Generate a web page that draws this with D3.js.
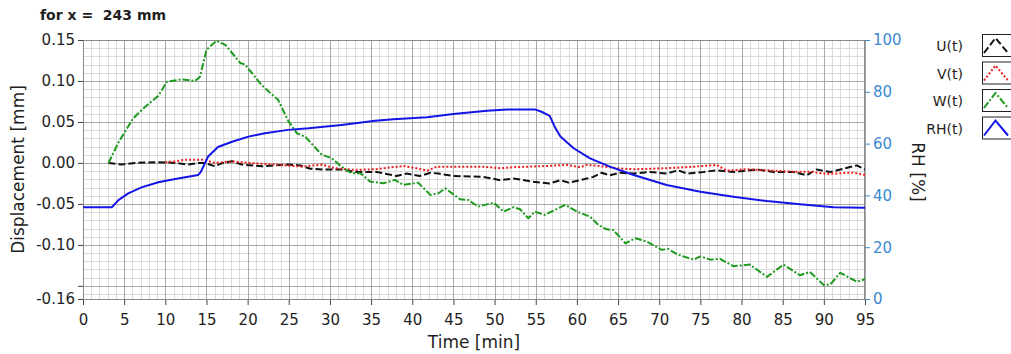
<!DOCTYPE html>
<html><head><meta charset="utf-8">
<script src="https://cdn.jsdelivr.net/npm/d3@7"></script>
<style>
html,body{margin:0;padding:0;background:#fff;}
svg{display:block;font-family:"DejaVu Sans",Verdana,sans-serif;}
</style></head>
<body>
<svg id="chart" width="1011" height="354"></svg>
<script>
// ---- data (time [min], value) ----
const uSeries = [[3.1,0.000],[4.7,-0.002],[6.3,0.000],[9.1,0.001],[11.2,0.000],[12.8,-0.002],[14.0,0.000],[14.8,0.000],[16.0,-0.004],[17.0,0.000],[18.1,0.002],[19.3,-0.002],[21.7,-0.004],[24.9,-0.002],[26.4,-0.003],[27.6,-0.007],[29.2,-0.008],[31.4,-0.008],[33.0,-0.011],[35.7,-0.011],[38.1,-0.016],[39.3,-0.013],[40.9,-0.016],[42.2,-0.012],[43.2,-0.013],[45.0,-0.016],[48.6,-0.017],[50.7,-0.021],[52.3,-0.019],[54.7,-0.023],[56.7,-0.025],[58.0,-0.021],[59.0,-0.024],[60.4,-0.021],[62.0,-0.017],[63.0,-0.012],[64.0,-0.015],[65.2,-0.012],[66.9,-0.013],[68.9,-0.011],[70.9,-0.013],[72.3,-0.009],[73.4,-0.013],[75.4,-0.011],[77.0,-0.009],[79.0,-0.011],[81.9,-0.008],[83.9,-0.011],[86.3,-0.011],[87.9,-0.015],[89.1,-0.008],[90.8,-0.011],[92.0,-0.008],[94.0,-0.003],[95.0,-0.008]];
const vSeries = [[10.0,0.001],[11.2,0.002],[12.4,0.004],[14.6,0.004],[16.0,0.000],[18.1,0.002],[20.1,0.000],[23.3,-0.002],[26.6,-0.0045],[29.0,-0.002],[30.6,-0.0065],[33.0,-0.0085],[35.5,-0.0077],[36.5,-0.0065],[38.9,-0.0037],[40.5,-0.0065],[41.8,-0.0094],[43.0,-0.0045],[44.6,-0.0045],[48.6,-0.0045],[50.7,-0.0065],[52.3,-0.0052],[56.3,-0.0037],[58.8,-0.0024],[60.4,-0.0052],[61.2,-0.0024],[62.8,-0.0037],[64.8,-0.0065],[66.9,-0.0077],[70.9,-0.0065],[74.2,-0.0045],[77.0,-0.0024],[78.2,-0.0094],[80.6,-0.0077],[83.9,-0.0094],[86.3,-0.0106],[88.3,-0.0106],[90.4,-0.0134],[92.0,-0.0126],[93.6,-0.0118],[95.0,-0.0146]];
const wSeries = [[3.1,0.000],[4.3,0.025],[6.1,0.0545],[7.5,0.068],[9.15,0.082],[10.2,0.099],[12.0,0.102],[13.6,0.100],[14.2,0.105],[15.0,0.138],[16.2,0.149],[17.3,0.144],[19.1,0.122],[19.7,0.120],[21.7,0.095],[23.7,0.077],[24.9,0.052],[26.0,0.036],[27.0,0.032],[29.0,0.010],[30.2,0.006],[31.4,-0.0045],[32.6,-0.0126],[33.7,-0.0126],[34.9,-0.0228],[36.5,-0.0248],[37.9,-0.0207],[38.9,-0.0268],[40.7,-0.024],[42.2,-0.039],[43.2,-0.037],[44.0,-0.031],[45.8,-0.0443],[46.8,-0.0451],[48.0,-0.0533],[49.9,-0.0484],[51.1,-0.0594],[52.3,-0.054],[53.1,-0.0565],[54.1,-0.0675],[54.9,-0.0594],[56.1,-0.0634],[56.9,-0.0594],[58.6,-0.0512],[60.0,-0.0594],[61.6,-0.0655],[62.6,-0.0756],[63.6,-0.081],[64.4,-0.0817],[65.9,-0.098],[67.1,-0.0918],[68.5,-0.096],[70.3,-0.106],[71.1,-0.105],[72.3,-0.112],[74.2,-0.118],[75.0,-0.114],[76.2,-0.118],[77.4,-0.117],[79.0,-0.126],[81.0,-0.124],[83.1,-0.139],[85.1,-0.124],[87.1,-0.137],[88.3,-0.133],[90.0,-0.149],[90.8,-0.148],[92.0,-0.134],[94.0,-0.145],[95.0,-0.142]];
const rhSeries = [[0,35.4],[3.5,35.4],[4.3,38.2],[5.5,40.8],[7.1,43.1],[9.15,45.1],[11.2,46.3],[14.0,47.9],[14.3,49.0],[15.2,55.0],[16.4,58.7],[18.1,60.7],[20.1,62.7],[22.1,64.0],[24.9,65.3],[27.4,65.9],[31.4,67.2],[35.5,68.8],[37.7,69.4],[41.8,70.2],[45.0,71.4],[49.1,72.7],[51.5,73.2],[54.9,73.2],[55.7,72.3],[56.7,70.7],[57.4,65.9],[58.0,62.7],[59.6,58.2],[61.6,54.3],[64.0,51.1],[66.9,47.9],[70.9,44.0],[75.0,41.4],[79.0,39.5],[83.1,37.8],[87.1,36.6],[91.2,35.4],[95.0,35.2]];

const legendNames = ["U(t)","V(t)","W(t)","RH(t)"];
const xTicks = d3.range(0,96,5);
const yLeftTicks = [0.15,0.10,0.05,0.00,-0.05,-0.10,-0.15,-0.166];
const yLeftLabels = ["0.15","0.10","0.05","0.00","-0.05","-0.10","","-0.16"];
const yRightTicks = [0,20,40,60,80,100];
const titleText = "for x =  243 mm";

// ---- layout ----
const L = 83, R = 865, T = 40, B = 299;
const x = d3.scaleLinear().domain([0,95]).range([L,R]);
const yL = d3.scaleLinear().domain([-0.166,0.15]).range([B,T]);
const yR = d3.scaleLinear().domain([0,100]).range([B,T]);

const svg = d3.select("#chart");
const textCol = "#1e1e1e";
const axisBlue = "#3a8ad0";

svg.append("text").attr("x",40).attr("y",20).attr("font-size",14).attr("font-weight","bold")
  .attr("fill",textCol).style("white-space","pre").text(titleText);

// plot bg
svg.append("rect").attr("x",L).attr("y",T).attr("width",R-L).attr("height",B-T).attr("fill","#fff");

const grid = svg.append("g");
// minor grid
d3.range(0,96,1).filter(d=>d%5!==0).forEach(d=>{
  grid.append("line").attr("x1",Math.round(x(d))+0.5).attr("x2",Math.round(x(d))+0.5).attr("y1",T).attr("y2",B)
    .attr("stroke","#dcdcdc").attr("stroke-width",1);
});
d3.range(-16,16,1).filter(d=>d%5!==0).forEach(d=>{
  const yy = Math.round(yL(d/100))+0.5;
  grid.append("line").attr("x1",L).attr("x2",R).attr("y1",yy).attr("y2",yy)
    .attr("stroke","#dcdcdc").attr("stroke-width",1);
});
// major grid
xTicks.forEach(d=>{
  grid.append("line").attr("x1",Math.round(x(d))+0.5).attr("x2",Math.round(x(d))+0.5).attr("y1",T).attr("y2",B)
    .attr("stroke","#a9a9a9").attr("stroke-width",1);
});
[-0.15,-0.10,-0.05,0,0.05,0.10].forEach(d=>{
  const yy = Math.round(yL(d))+0.5;
  grid.append("line").attr("x1",L).attr("x2",R).attr("y1",yy).attr("y2",yy)
    .attr("stroke","#a9a9a9").attr("stroke-width",1);
});
svg.append("rect").attr("x",L+0.5).attr("y",T+0.5).attr("width",R-L-1).attr("height",B-T)
  .attr("fill","none").attr("stroke","#8a8a8a").attr("stroke-width",1);

// axes
const xAxis = svg.append("g").attr("transform",`translate(0,${B+1})`)
  .call(d3.axisBottom(x).tickValues(xTicks).tickSize(5).tickPadding(9).tickFormat(d3.format("d")));
const yAxisL = svg.append("g").attr("transform",`translate(${L},0)`)
  .call(d3.axisLeft(yL).tickValues(yLeftTicks).tickSize(5).tickPadding(3)
    .tickFormat((d,i)=>yLeftLabels[i]));
const yAxisR = svg.append("g").attr("transform",`translate(${R},0)`)
  .call(d3.axisRight(yR).tickValues(yRightTicks).tickSize(5).tickPadding(3).tickFormat(d3.format("d")));
[xAxis,yAxisL,yAxisR].forEach(g=>{
  g.select(".domain").remove();
  g.selectAll("text").attr("font-size",15).attr("font-family","DejaVu Sans, sans-serif");
});
xAxis.selectAll("line").attr("stroke","#444");
xAxis.selectAll("text").attr("fill",textCol);
yAxisL.selectAll("line").attr("stroke","#444");
yAxisL.selectAll("text").attr("fill",textCol);
yAxisR.selectAll("line").attr("stroke",axisBlue);
yAxisR.selectAll("text").attr("fill",axisBlue);

// axis titles
svg.append("text").attr("x",(L+R)/2).attr("y",348).attr("text-anchor","middle")
  .attr("font-size",17).attr("fill",textCol).text("Time [min]");
svg.append("text").attr("transform",`translate(24,${(T+B)/2}) rotate(-90)`).attr("text-anchor","middle")
  .attr("font-size",17).attr("fill",textCol).text("Displacement [mm]");
svg.append("text").attr("transform",`translate(912,${172}) rotate(90)`).attr("text-anchor","middle")
  .attr("font-size",17).attr("fill",textCol).text("RH [%]");

// lines
const styles = [
  {data:uSeries, y:yL, color:"#111111", dash:"7,3", w:2},
  {data:vSeries, y:yL, color:"#ee1c1c", dash:"2,2", w:2},
  {data:wSeries, y:yL, color:"#1e9a1e", dash:"7,2,2,2", w:2},
  {data:rhSeries, y:yR, color:"#1414e6", dash:null, w:2}
];
const clip = svg.append("clipPath").attr("id","pc").append("rect")
  .attr("x",L).attr("y",T).attr("width",R-L).attr("height",B-T);
const lg = svg.append("g").attr("clip-path","url(#pc)");
styles.forEach(s=>{
  const line = d3.line().x(d=>x(d[0])).y(d=>s.y(d[1]));
  lg.append("path").attr("d",line(s.data)).attr("fill","none").attr("stroke",s.color)
    .attr("stroke-width",s.w).attr("stroke-dasharray",s.dash).attr("stroke-linejoin","round");
});

// legend
const legTop = [34,61.5,89,116.5];
styles.forEach((s,i)=>{
  const yTop = legTop[i];
  svg.append("text").attr("x",963).attr("y",yTop+12).attr("dy","0.36em").attr("text-anchor","end")
    .attr("font-size",14).attr("fill",textCol).text(legendNames[i]);
  svg.append("rect").attr("x",982.5).attr("y",yTop+0.5).attr("width",40).attr("height",22)
    .attr("fill","#fff").attr("stroke","#222").attr("stroke-width",1);
  svg.append("path").attr("d",`M984,${yTop+19} L995.5,${yTop+4} L1008,${yTop+19}`)
    .attr("fill","none").attr("stroke",s.color).attr("stroke-width",2).attr("stroke-dasharray",s.dash);
});
</script>
</body></html>
